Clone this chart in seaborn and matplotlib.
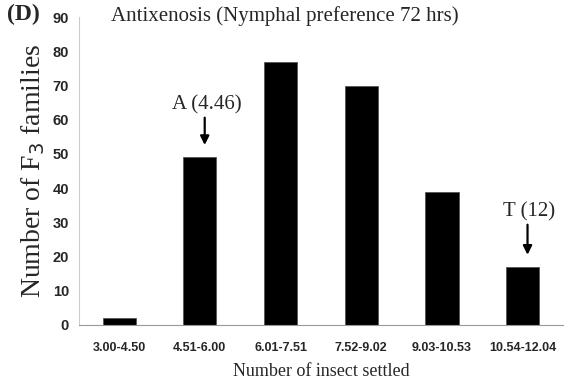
import matplotlib
matplotlib.use("Agg")
import matplotlib.pyplot as plt
import seaborn as sns
import pandas as pd

# data
classes = ["3.00-4.50", "4.51-6.00", "6.01-7.51", "7.52-9.02", "9.03-10.53", "10.54-12.04"]
families = [2, 49, 77, 70, 39, 17]

# arrow markers: (category index, label, arrow tail, arrow tip)
marks = [(1, "A (4.46)", 60.6, 52.6), (5, "T (12)", 29.3, 20.5)]

df = pd.DataFrame({"Class": classes, "Families": families})

sns.set_style("white")
plt.rcParams["font.family"] = ["Liberation Serif", "DejaVu Serif"]

fig = plt.figure(figsize=(5.67, 3.9), dpi=100)
ax = fig.add_axes([0.139, 0.167, 0.854, 0.789])

sns.barplot(data=df, x="Class", y="Families", color="black", width=0.41,
            edgecolor="#555555", linewidth=0.6, ax=ax, saturation=1)

ax.set_ylim(0, 90)
ax.set_xlim(-0.5, 5.5)
ax.set_yticks(range(0, 91, 10))

tick_font = ["Liberation Sans", "DejaVu Sans"]
for lab in ax.get_yticklabels():
    lab.set_fontfamily(tick_font)
    lab.set_fontweight("bold")
    lab.set_fontsize(10.5)
for lab in ax.get_xticklabels():
    lab.set_fontfamily(tick_font)
    lab.set_fontweight("bold")
    lab.set_fontsize(9)

# spines like the spreadsheet original
for s in ["top", "right"]:
    ax.spines[s].set_visible(False)
ax.spines["left"].set_color("#cccccc")
ax.spines["bottom"].set_color("#999999")
ax.spines["left"].set_linewidth(0.8)
ax.spines["bottom"].set_linewidth(0.8)

ax.tick_params(axis="y", length=3, color="#bbbbbb", pad=4)
ax.tick_params(axis="x", length=0, pad=12)
# category separators on the x axis
ax.set_xticks([i + 0.5 for i in range(-1, len(classes))], minor=True)
ax.tick_params(axis="x", which="minor", length=3, color="#bbbbbb", direction="out")

ax.set_ylabel("Number of F$_3$ families", fontsize=20, labelpad=4)
ax.set_xlabel("Number of insect settled", fontsize=13, labelpad=7)

# arrow annotations
for i, txt, tail, tip in marks:
    ax.annotate("", xy=(i + 0.06, tip), xytext=(i + 0.06, tail),
                arrowprops=dict(arrowstyle="-|>", color="black", lw=1.6,
                                mutation_scale=13, shrinkA=0, shrinkB=0))
    ax.text(i + 0.08, tail + 1.0, txt, ha="center", va="bottom", fontsize=15)

fig.text(0.012, 0.962, "(D)", fontsize=17, fontweight="bold", ha="left", va="center")
fig.text(0.503, 0.985, "Antixenosis (Nymphal preference 72 hrs)", fontsize=15,
         ha="center", va="top")

fig.savefig("out.png", dpi=100)
